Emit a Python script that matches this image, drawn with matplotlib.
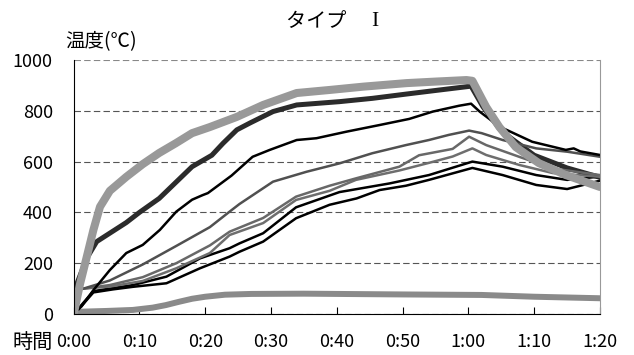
import matplotlib
matplotlib.use('Agg')
import matplotlib.pyplot as plt

plt.rcParams['font.family'] = ['Noto Sans CJK JP', 'DejaVu Sans']

# 時間 (分) と 温度 (℃)
t_furnace = [0, 1, 2, 3, 4, 5.5, 8, 10.5, 13, 15.5, 18, 20.7, 24.8, 28.8, 33.9, 38.9, 44, 50.6, 55, 59.7, 60.6, 62.7, 64.7, 67.2, 70.7, 74.8, 80]
v_furnace = [0, 122, 226, 331, 422, 485, 540, 590, 634, 672, 712, 736, 776, 823, 870, 882, 895, 909, 915, 921, 918, 815, 736, 657, 594, 547, 500]

t_b = [0, 0.5, 2, 3.5, 8, 10, 13, 16, 18, 21, 22.7, 24.8, 26.8, 30.3, 33.9, 40.4, 45.4, 50.6, 55, 60.4, 62.2, 65, 70, 75, 80]
v_b = [80, 120, 220, 285, 360, 400, 455, 530, 580, 625, 672, 725, 752, 797, 823, 836, 849, 866, 880, 897, 816, 720, 625, 575, 538]

t_c = [0.5, 1.2, 3, 5.5, 8, 10.5, 13.1, 15.6, 18, 19.6, 20.4, 24, 27.2, 29.8, 33.9, 36.9, 41.5, 46.5, 51, 54.6, 58.6, 60.4, 61.7, 64.7, 69.7, 74.8, 76, 77, 80]
v_c = [15, 30, 94, 173, 240, 272, 331, 403, 450, 468, 476, 545, 619, 646, 685, 692, 718, 744, 768, 797, 820, 828, 797, 738, 678, 646, 652, 640, 626]

t_d = [1.5, 5.5, 10.5, 15.6, 20.7, 23.7, 25.2, 30.3, 35.4, 40.4, 45.4, 50.5, 54, 57, 60.1, 62, 65.2, 70.3, 75, 80]
v_d = [100, 132, 195, 268, 342, 403, 433, 521, 560, 593, 633, 665, 685, 705, 722, 712, 685, 652, 639, 619]

t_e = [1.5, 5.5, 10.5, 15.6, 20.7, 23.7, 28.8, 33.8, 38.9, 42.9, 49.5, 52.5, 57.6, 60.1, 62.7, 67.7, 72.8, 80]
v_e = [100, 114, 145, 200, 270, 324, 378, 462, 505, 534, 580, 625, 650, 698, 665, 619, 573, 547]

t_f = [1.5, 5.5, 10.5, 15.6, 20.7, 23.7, 28.8, 33.8, 38.9, 42.9, 49.5, 54, 57.6, 60.6, 62.7, 67.7, 72.8, 80]
v_f = [100, 108, 130, 180, 240, 311, 358, 449, 485, 528, 565, 595, 620, 652, 626, 587, 555, 540]

t_g = [1, 3, 6, 9, 14.1, 19.2, 23.7, 25.2, 28.8, 33.8, 40.4, 48, 54, 60.6, 65.2, 70.3, 75, 80]
v_g = [30, 90, 102, 114, 147, 219, 259, 278, 318, 420, 480, 514, 547, 600, 580, 547, 528, 541]

t_h = [0.8, 3, 6, 9, 14.1, 19.2, 23.7, 25.2, 28.8, 33.8, 38.9, 43, 46.5, 50.5, 54, 60.6, 65.2, 70.3, 75, 77, 80]
v_h = [20, 85, 97, 107, 121, 180, 226, 245, 285, 377, 430, 455, 488, 505, 528, 575, 547, 508, 492, 505, 525]

t_low = [0, 1, 5, 9, 12, 14, 16, 18, 20, 23, 27, 35, 50, 62, 70, 80]
v_low = [0, 9, 12, 16, 25, 35, 48, 60, 68, 76, 79, 80, 77, 75, 68, 62]

xticks = [0, 10, 20, 30, 40, 50, 60, 70, 80]
xlabels = ['0:00', '0:10', '0:20', '0:30', '0:40', '0:50', '1:00', '1:10', '1:20']
yticks = [0, 200, 400, 600, 800, 1000]

fig = plt.figure(figsize=(6.34, 3.55), dpi=100)
ax = fig.add_axes([0.1162, 0.1155, 0.8302, 0.7155])

ax.plot(t_low, v_low, color='#8a8a8a', lw=4.3, solid_capstyle='round')
ax.plot(t_b, v_b, color='#2b2b2b', lw=3.6)
ax.plot(t_h, v_h, color='black', lw=1.8)
ax.plot(t_g, v_g, color='black', lw=1.8)
ax.plot(t_f, v_f, color='#6e6e6e', lw=1.8)
ax.plot(t_e, v_e, color='#686868', lw=1.8)
ax.plot(t_d, v_d, color='#505050', lw=1.8)
ax.plot(t_c, v_c, color='black', lw=1.8)
ax.plot(t_furnace, v_furnace, color='#999999', lw=5.8, solid_capstyle='round', solid_joinstyle='round')

ax.set_xlim(0, 80)
ax.set_ylim(0, 1000)
ax.set_xticks(xticks)
ax.set_xticklabels(xlabels)
ax.set_yticks(yticks)
ax.tick_params(axis='x', direction='in', length=5, width=0.8, pad=14, labelsize=13)
ax.tick_params(axis='y', length=0, pad=15, labelsize=13)

ax.yaxis.grid(True, color='#555555', lw=0.8, linestyle=(0, (5.8, 2.9)))
ax.get_ygridlines()[-1].set_color('#888888')
ax.set_axisbelow(True)

ax.spines['top'].set_visible(False)
ax.spines['right'].set_color('#999999')
ax.spines['left'].set_color('black')
ax.spines['bottom'].set_color('black')

fig.text(0.515, 1 - 22 / 355, 'タイプ\u3000', ha='center', va='center', fontsize=14.5)
fig.text(0.591, 1 - 22 / 355, 'I', ha='center', va='center', fontsize=15.5, family='Liberation Serif')
fig.text(65 / 634, 1 - 42 / 355, '温度(℃)', ha='left', va='center', fontsize=14)
fig.text(12 / 634, 1 - 342 / 355, '時間', ha='left', va='center', fontsize=14.5)

fig.savefig('out.png', dpi=100)
